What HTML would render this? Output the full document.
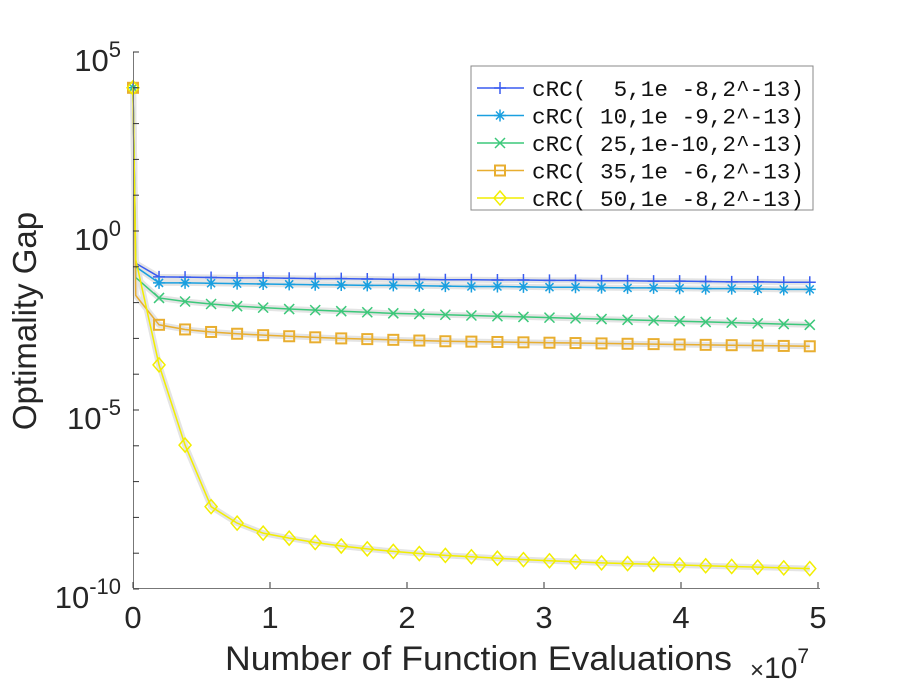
<!DOCTYPE html>
<html><head><meta charset="utf-8"><style>
body{margin:0;background:#fff}
svg{display:block;font-family:"Liberation Sans",sans-serif}
</style></head><body>
<svg id="chart" width="913" height="686" viewBox="0 0 913 686">
<g id="grey"></g>
<g id="lines"></g>
<g id="axes"></g>
<text transform="translate(36,321) rotate(-90)" text-anchor="middle" font-size="33" fill="#262626">Optimality Gap</text>
<text x="225" y="670" font-size="34" fill="#262626" textLength="507" lengthAdjust="spacingAndGlyphs">Number of Function Evaluations</text>
<text x="750" y="678" font-size="30" fill="#262626"><tspan font-size="24">×</tspan>10<tspan dy="-15" font-size="21">7</tspan></text>
<g>
<rect x="471" y="66" width="342" height="144" fill="#fff" stroke="#888" stroke-width="1"/>
<g id="legend-entries"></g>
</g>
</svg>
<script>
const xVals=[0,0.02,0.19,0.38,0.57,0.76,0.95,1.14,1.33,1.52,1.71,1.9,2.09,2.28,2.47,2.66,2.85,3.04,3.23,3.42,3.61,3.8,3.99,4.18,4.37,4.56,4.75,4.94];
const s1=[4,-0.9,-1.28,-1.29,-1.3,-1.31,-1.31,-1.32,-1.33,-1.33,-1.34,-1.35,-1.35,-1.36,-1.36,-1.37,-1.37,-1.38,-1.38,-1.39,-1.39,-1.4,-1.4,-1.41,-1.42,-1.42,-1.43,-1.43];
const s2=[4,-1.0,-1.45,-1.45,-1.46,-1.47,-1.48,-1.49,-1.5,-1.51,-1.52,-1.52,-1.53,-1.54,-1.55,-1.55,-1.56,-1.57,-1.57,-1.58,-1.59,-1.59,-1.6,-1.61,-1.61,-1.62,-1.63,-1.63];
const s3=[4,-1.3,-1.87,-1.97,-2.04,-2.1,-2.14,-2.18,-2.21,-2.24,-2.27,-2.3,-2.32,-2.34,-2.36,-2.38,-2.4,-2.42,-2.44,-2.46,-2.48,-2.5,-2.52,-2.54,-2.56,-2.58,-2.6,-2.62];
const s4=[4,-1.8,-2.62,-2.75,-2.82,-2.87,-2.91,-2.94,-2.97,-3.0,-3.02,-3.04,-3.06,-3.08,-3.09,-3.1,-3.11,-3.12,-3.13,-3.14,-3.15,-3.16,-3.17,-3.18,-3.19,-3.2,-3.21,-3.22];
const s5=[4,-0.8,-3.74,-5.98,-7.7,-8.16,-8.44,-8.58,-8.7,-8.8,-8.88,-8.95,-9.01,-9.06,-9.1,-9.14,-9.18,-9.21,-9.24,-9.27,-9.29,-9.31,-9.33,-9.35,-9.37,-9.39,-9.41,-9.43];
const labels=["cRC(  5,1e -8,2^-13)","cRC( 10,1e -9,2^-13)","cRC( 25,1e-10,2^-13)","cRC( 35,1e -6,2^-13)","cRC( 50,1e -8,2^-13)"];
const xTicks=[0,1,2,3,4,5];
const yTickExps=[5,0,-5,-10];

const X=v=>133+v*137, Y=e=>231-e*35.8;
const NS="http://www.w3.org/2000/svg";
function mk(tag,parent,attrs){const e=document.createElementNS(NS,tag);for(const k in attrs)e.setAttribute(k,attrs[k]);parent.appendChild(e);return e;}
const series=[s1,s2,s3,s4,s5];
const colors=["#3a5cf0","#1aa0e0","#3cc87a","#e8ae30","#f2ee00"];
const markers=["plus","star","x","square","diamond"];
const names=["series-5","series-10","series-25","series-35","series-50"];
function marker(g,type,cx,cy,c){
 const r=6;let el;
 if(type=="plus"){el=mk("path",g,{d:`M${cx-r} ${cy}H${cx+r}M${cx} ${cy-r}V${cy+r}`,stroke:c,"stroke-width":1.5,fill:"none"});}
 else if(type=="star"){el=mk("path",g,{d:`M${cx-r} ${cy}H${cx+r}M${cx} ${cy-r}V${cy+r}M${cx-4} ${cy-4}L${cx+4} ${cy+4}M${cx-4} ${cy+4}L${cx+4} ${cy-4}`,stroke:c,"stroke-width":1.5,fill:"none"});}
 else if(type=="x"){el=mk("path",g,{d:`M${cx-5} ${cy-5}L${cx+5} ${cy+5}M${cx-5} ${cy+5}L${cx+5} ${cy-5}`,stroke:c,"stroke-width":1.5,fill:"none"});}
 else if(type=="square"){el=mk("rect",g,{x:cx-5,y:cy-5,width:10,height:10,stroke:c,"stroke-width":2,fill:"none"});}
 else {el=mk("path",g,{d:`M${cx} ${cy-7}L${cx+6} ${cy}L${cx} ${cy+7}L${cx-6} ${cy}Z`,stroke:c,"stroke-width":1.5,fill:"none"});}
 
 
}
const grey=document.getElementById("grey"),lines=document.getElementById("lines");
series.forEach((s,k)=>{
 const pts=s.map((v,i)=>X(xVals[i])+","+Y(v)).join(" ");
 const b=mk("polyline",grey,{points:pts,fill:"none",stroke:"#e4e4e4","stroke-width":6,"stroke-linejoin":"round"});
 
 
 const g=mk("g",lines,{});
 
 
 const l=mk("polyline",g,{points:pts,fill:"none",stroke:colors[k],"stroke-width":1.5});
 
 
 s.forEach((v,i)=>{if(i==1)return;marker(g,markers[k],X(xVals[i]),Y(v),colors[k]);});
});
const ax=document.getElementById("axes");
const la=mk("path",ax,{d:"M133.5 52V588.5H820",stroke:"#777","stroke-width":1,fill:"none"});


xTicks.forEach(t=>{
 mk("line",ax,{x1:X(t),x2:X(t),y1:588,y2:582,stroke:"#333"});
 const tx=mk("text",ax,{x:X(t),y:628,"text-anchor":"middle","font-size":31,fill:"#262626"});
 tx.textContent=t;
 
 
});
for(let e=-10;e<=5;e++){mk("line",ax,{x1:133,x2:139,y1:Y(e),y2:Y(e),stroke:"#333"});}
yTickExps.forEach(e=>{
 const tx=mk("text",ax,{x:121,y:Y(e)+19,"text-anchor":"end","font-size":31,fill:"#262626"});
 tx.innerHTML="10<tspan dy='-14' font-size='22'>"+e+"</tspan>";
 
 
});
const lg=document.getElementById("legend-entries");
labels.forEach((t,k)=>{
 const y=88+k*27.5;
 const g=mk("g",lg,{});
 
 
 mk("line",g,{x1:477,x2:524,y1:y,y2:y,stroke:colors[k],"stroke-width":1.5});
 marker(g,markers[k],500,y,colors[k]);
 const tx=mk("text",g,{x:532,y:y+8,"font-size":22,fill:"#111","font-family":"Liberation Mono, monospace",textLength:272,lengthAdjust:"spacingAndGlyphs"});
 tx.style.whiteSpace="pre";
 tx.textContent=t;
});
</script>
</body></html>
